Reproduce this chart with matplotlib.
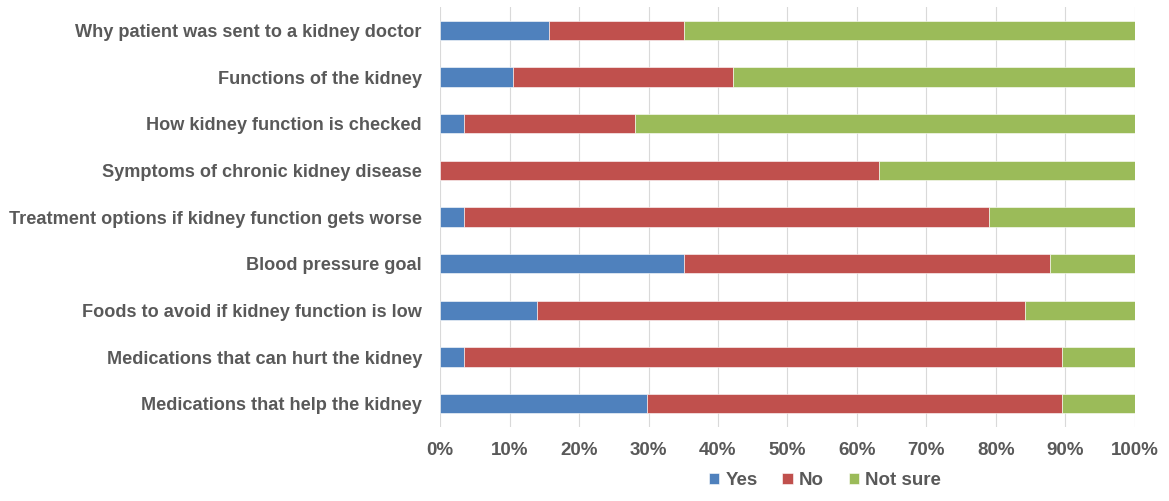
import matplotlib
matplotlib.use("Agg")
import matplotlib.pyplot as plt
import numpy as np

categories = [
    "Why patient was sent to a kidney doctor",
    "Functions of the kidney",
    "How kidney function is checked",
    "Symptoms of chronic kidney disease",
    "Treatment options if kidney function gets worse",
    "Blood pressure goal",
    "Foods to avoid if kidney function is low",
    "Medications that can hurt the kidney",
    "Medications that help the kidney",
]
yes = [15.7, 10.5, 3.5, 0.0, 3.5, 35.1, 14.0, 3.5, 29.8]
no = [19.4, 31.7, 24.6, 63.2, 75.5, 52.7, 70.2, 86.0, 59.7]
not_sure = [64.9, 57.8, 71.9, 36.8, 21.0, 12.2, 15.8, 10.5, 10.5]
series_names = ["Yes", "No", "Not sure"]
colors = ["#4F81BD", "#C0504D", "#9BBB59"]

plt.rcParams['font.family'] = ['Liberation Sans', 'DejaVu Sans']
text_color = "#595959"

fig = plt.figure(figsize=(11.69, 5.01), dpi=100)
ax = fig.add_axes([0.3764, 0.1477, 0.9709 - 0.3764, 0.986 - 0.1477])

y = np.arange(len(categories))
left = np.zeros(len(categories))
for vals, name, c in zip([yes, no, not_sure], series_names, colors):
    ax.barh(y, vals, left=left, height=0.42, color=c, label=name,
            edgecolor="white", linewidth=0.4, zorder=3)
    left = left + np.array(vals)

ax.set_xlim(0, 100)
ax.set_ylim(len(categories) - 0.5, -0.5)
ax.set_yticks(y)
ax.set_yticklabels(categories)
ax.set_xticks(np.arange(0, 101, 10))
ax.set_xticklabels([f"{v}%" for v in range(0, 101, 10)])
ax.tick_params(axis='y', length=0, pad=13, labelsize=13.1, labelcolor=text_color)
ax.tick_params(axis='x', length=0, pad=11, labelsize=13.5, labelcolor=text_color)
for lab in ax.get_yticklabels() + ax.get_xticklabels():
    lab.set_fontweight('bold')
ax.grid(axis='x', color="#D9D9D9", linewidth=0.8, zorder=0)
for s in ax.spines.values():
    s.set_visible(False)

leg = ax.legend(loc='upper center', bbox_to_anchor=(0.554, -0.067), ncol=3, frameon=False,
                handlelength=0.55, handleheight=0.55, handletextpad=0.35, columnspacing=1.3,
                prop={'size': 13.5, 'weight': 'bold'})
for t in leg.get_texts():
    t.set_color(text_color)

fig.savefig("out.png", dpi=100)
